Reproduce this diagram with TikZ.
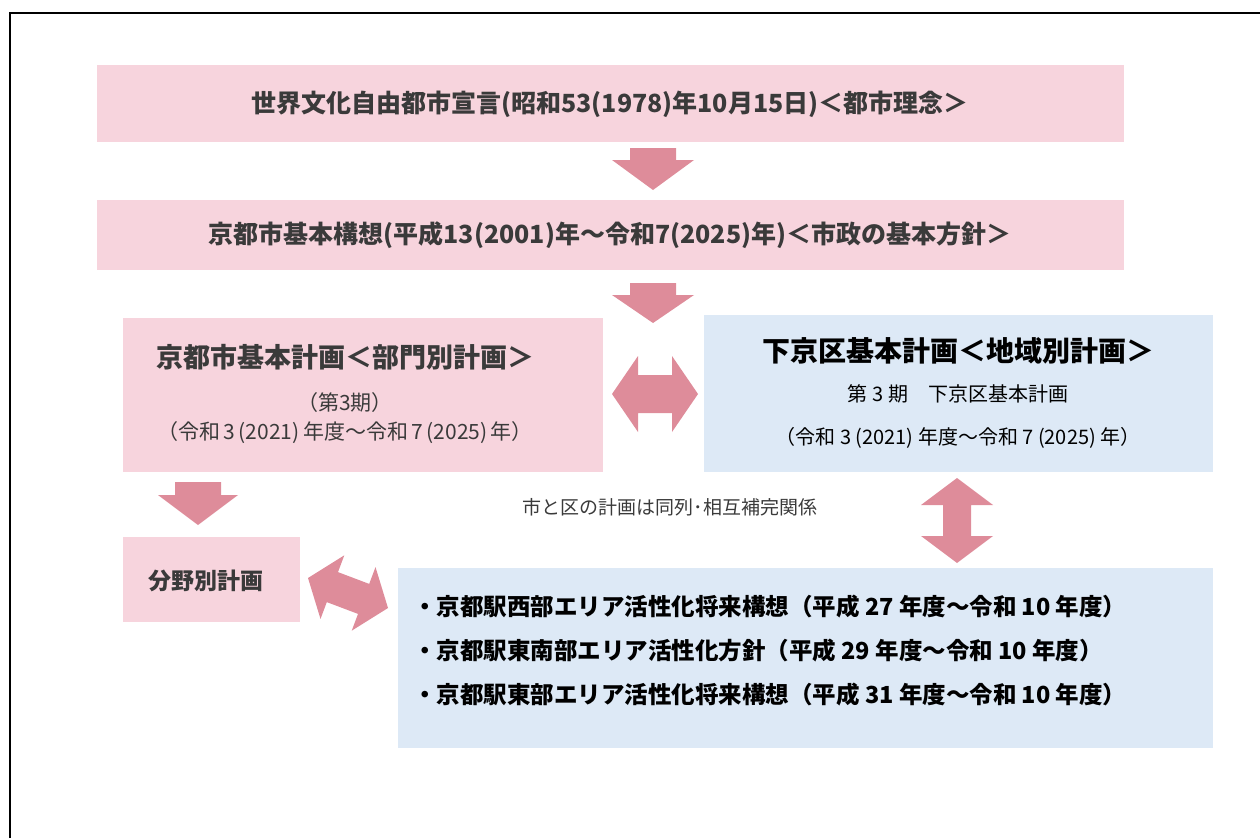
\documentclass[tikz,border=0pt]{standalone}
\usepackage{fontspec}
\setmainfont{Noto Sans CJK JP}
\definecolor{pinkfill}{HTML}{F7D4DD}
\definecolor{bluefill}{HTML}{DDE9F6}
\definecolor{arrowc}{HTML}{DE8C9A}
\definecolor{pinktext}{HTML}{3A3A3A}
\newcommand{\fs}[1]{\fontsize{#1}{#1}\selectfont}
\tikzset{
  pinkbox/.style={fill=pinkfill, draw=none, inner sep=0pt, anchor=north west},
  bluebox/.style={fill=bluefill, draw=none, inner sep=0pt, anchor=north west},
  pinktitle/.style={font=\fs{25}\bfseries, text=pinktext, inner sep=0pt},
  pinksub/.style={font=\fs{21}, text=pinktext, inner sep=0pt},
  bluetitle/.style={font=\fs{28}\bfseries, text=black, inner sep=0pt},
  bluesub/.style={font=\fs{20}, text=black, inner sep=0pt},
  bluelist/.style={font=\fs{23.5}\bfseries, text=black, inner sep=0pt, anchor=west},
  blockarrow/.style={fill=arrowc, draw=none}
}
\begin{document}
\begin{tikzpicture}[x=1pt,y=-1pt]
\useasboundingbox (0,0) rectangle (1260,838);
\draw[line width=2pt] (10,838) -- (10,13) -- (1260,13);

% boxes
\node[pinkbox, minimum width=1027pt, minimum height=77pt] (b1) at (97,65) {};
\node[pinkbox, minimum width=1027pt, minimum height=70pt] (b2) at (97,200) {};
\node[pinkbox, minimum width=480pt, minimum height=154pt] (b3) at (123,318) {};
\node[bluebox, minimum width=509pt, minimum height=157pt] (b4) at (704,315) {};
\node[pinkbox, minimum width=177pt, minimum height=85pt] (b5) at (123,537) {};
\node[bluebox, minimum width=815pt, minimum height=180pt] (b6) at (398,568) {};

% texts
\node[pinktitle] (t1) at (610,104) {世界文化自由都市宣言(昭和53(1978)年10月15日)＜都市理念＞};
\node[pinktitle] (t2) at (610,235) {京都市基本構想(平成13(2001)年～令和7(2025)年)＜市政の基本方針＞};
\node[pinktitle, font=\fs{27}\bfseries] (t3a) at (345,357) {京都市基本計画＜部門別計画＞};
\node[pinksub] (t3b) at (345,403) {（第3期）};
\node[pinksub] (t3c) at (345,433) {（令和\,3\,(2021)\,年度～令和\,7\,(2025)\,年）};
\node[bluetitle] (t4a) at (958,351) {下京区基本計画＜地域別計画＞};
\node[bluesub] (t4b) at (958,394) {第 3 期　下京区基本計画};
\node[bluesub] (t4c) at (958,438) {（令和 3 (2021) 年度～令和 7 (2025) 年）};
\node[pinktitle, font=\fs{23}\bfseries, anchor=west] (t5) at (148,581) {分野別計画};
\node[pinksub, font=\fs{19}] (lbl) at (670,507) {市と区の計画は同列･相互補完関係};
\node[bluelist] (l1) at (413,607) {・京都駅西部エリア活性化将来構想（平成 27 年度～令和 10 年度）};
\node[bluelist] (l2) at (413,651) {・京都駅東南部エリア活性化方針（平成 29 年度～令和 10 年度）};
\node[bluelist] (l3) at (413,695) {・京都駅東部エリア活性化将来構想（平成 31 年度～令和 10 年度）};

% block arrows
\fill[blockarrow] (630,148) -- (676,148) -- (676,160) -- (694,160) -- (653,190) -- (612,160) -- (630,160) -- cycle;
\fill[blockarrow] (630,283) -- (676,283) -- (676,295) -- (694,295) -- (653,323) -- (612,295) -- (630,295) -- cycle;
\fill[blockarrow] (175,482) -- (221,482) -- (221,495) -- (238,495) -- (198,525) -- (158,495) -- (175,495) -- cycle;
% horizontal double arrow
\fill[blockarrow] (612,394) -- (638,356) -- (638,375) -- (672,375) -- (672,356) -- (698,394) -- (672,432) -- (672,413) -- (638,413) -- (638,432) -- cycle;
% vertical double arrow
\fill[blockarrow] (957,478) -- (993,505) -- (971,505) -- (971,536) -- (993,536) -- (957,563) -- (921,536) -- (943,536) -- (943,505) -- (921,505) -- cycle;
% diagonal double arrow
\fill[blockarrow] (308,578) -- (344.3,555.3) -- (338.0,572.1) -- (369.2,583.9) -- (375.5,567.1) -- (388,608) -- (351.7,630.7) -- (358.0,613.9) -- (326.8,602.1) -- (320.5,618.9) -- cycle;
\end{tikzpicture}
\end{document}
